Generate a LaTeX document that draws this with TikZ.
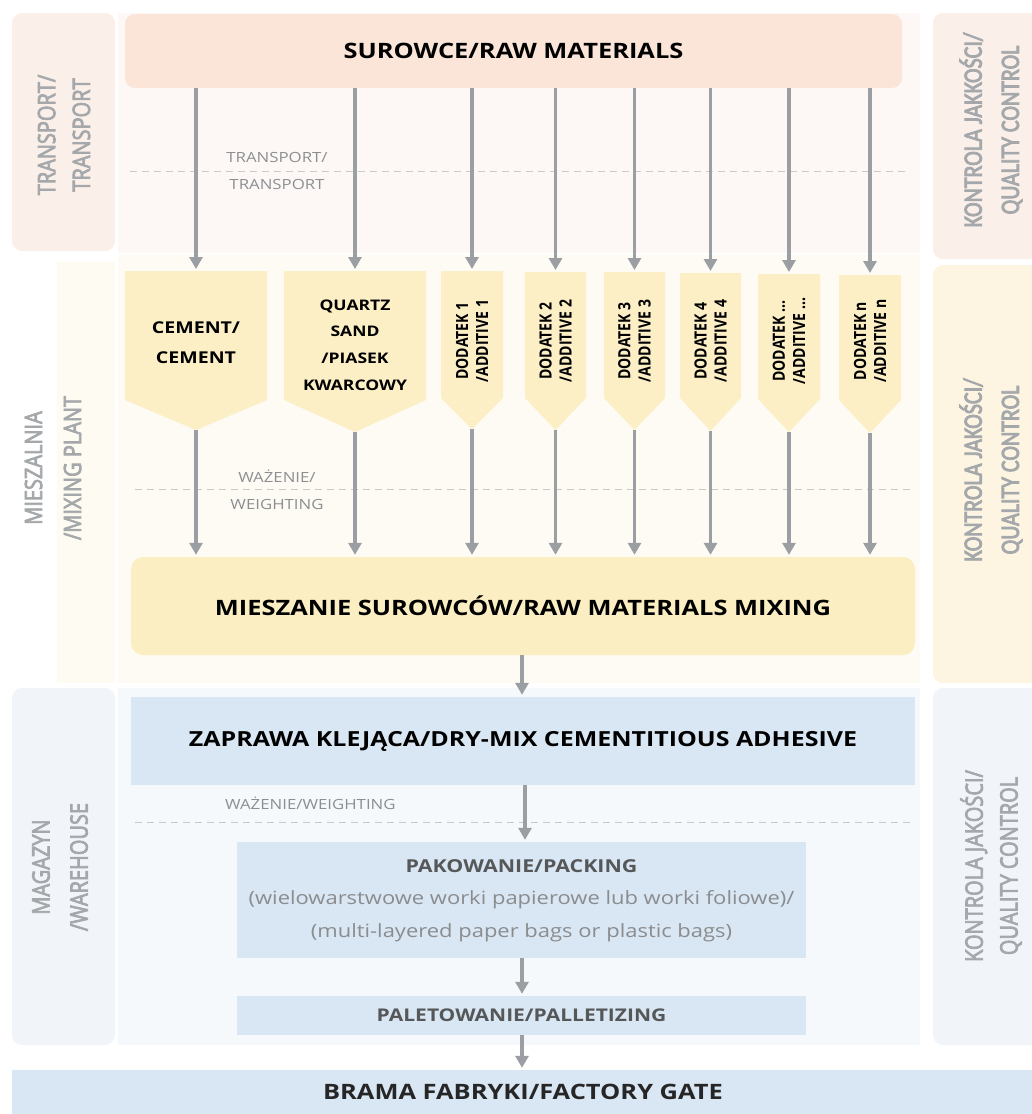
\documentclass[tikz,border=0pt]{standalone}
\usepackage{fontspec}
\setmainfont{Open Sans}[FakeStretch=1.2]
\newfontfamily\plainfont{Open Sans}
\newfontfamily\semifont{Open Sans}[FakeBold=3.5]
\newfontfamily\narrowfont{Carlito}[FakeBold=3.5]
\usetikzlibrary{arrows.meta}
\definecolor{arrowgray}{HTML}{9B9FA3}
\definecolor{labelgray}{HTML}{A5A8AB}
\definecolor{smallgray}{HTML}{8C8F92}
\definecolor{dashgray}{HTML}{CACACA}
\definecolor{rawfill}{HTML}{FBE5D9}
\definecolor{transbg}{HTML}{FDF8F5}
\definecolor{transside}{HTML}{FBEFE9}
\definecolor{mixbg}{HTML}{FDFBF3}
\definecolor{mixside}{HTML}{FDFBF2}
\definecolor{hopperfill}{HTML}{FCEFC6}
\definecolor{mixbox}{HTML}{FCEEC3}
\definecolor{qcmix}{HTML}{FDF5E2}
\definecolor{bluebox}{HTML}{D9E6F3}
\definecolor{whbg}{HTML}{F6F9FC}
\definecolor{whside}{HTML}{F1F5F9}
\definecolor{darktext}{HTML}{555759}
\definecolor{softtext}{HTML}{8A8C8E}
\begin{document}
\begin{tikzpicture}[x=1pt,y=-1pt,
  flow/.style={draw=arrowgray, line width=3.6pt, shorten >=2pt,
    -{Triangle[length=12pt,width=13pt]}},
  dashline/.style={draw=dashgray, line width=1pt, dash pattern=on 7pt off 5pt},
  sidelabel/.style={text=labelgray, rotate=90, yscale=1.2, transform shape, align=center, inner sep=0pt},
  smalllabel/.style={text=smallgray, align=center, inner sep=0pt, font=\fontsize{14}{27}\selectfont},
  hoppertext/.style={align=center, inner sep=0pt},
  addtext/.style={rotate=90, yscale=1.2, transform shape, align=center, inner sep=0pt, font=\plainfont\bfseries\fontsize{14}{16.7}\selectfont},
  bigbox/.style={inner sep=0pt, font=\bfseries\fontsize{21.2}{25}\selectfont},
]
\useasboundingbox (0,0) rectangle (1031,1114);
% ---------- backgrounds ----------
\fill[white] (0,0) rectangle (1031,1114);
\fill[transside, rounded corners=10pt] (12,13) rectangle (115,251);
\fill[transbg] (118,13) rectangle (920,253);
\fill[transside, rounded corners=10pt] (933,13) rectangle (1050,259);
\fill[mixside] (57,262) rectangle (115,683);
\fill[mixbg] (118,255) rectangle (920,683);
\fill[qcmix, rounded corners=10pt] (933,265) rectangle (1050,683);
\fill[whside, rounded corners=10pt] (12,688) rectangle (115,1045);
\fill[whbg] (118,688) rectangle (920,1045);
\fill[whside, rounded corners=10pt] (933,688) rectangle (1050,1045);

% ---------- side labels ----------
\node[sidelabel, font=\semifont\fontsize{20}{29}\selectfont] (ltrans) at (64,135) {TRANSPORT/\\TRANSPORT};
\node[sidelabel, font=\semifont\fontsize{20}{32.5}\selectfont] (lmix) at (53,468) {MIESZALNIA\\/MIXING PLANT};
\node[sidelabel, font=\semifont\fontsize{20}{31.7}\selectfont] (lwh) at (60,867) {MAGAZYN\\/WAREHOUSE};
\node[sidelabel, font=\narrowfont\fontsize{22}{31}\selectfont] (qc1) at (991,130) {KONTROLA JAKKOŚCI/\\QUALITY CONTROL};
\node[sidelabel, font=\narrowfont\fontsize{22}{31}\selectfont] (qc2) at (991,470) {KONTROLA JAKOŚCI/\\QUALITY CONTROL};
\node[sidelabel, font=\semifont\fontsize{20}{29}\selectfont] (qc3) at (991,866) {KONTROLA JAKOŚCI/\\QUALITY CONTROL};

% ---------- raw materials ----------
\node[bigbox, fill=rawfill, rounded corners=10pt, minimum width=777pt, minimum height=74pt] (raw) at (513.5,51) {SUROWCE/RAW MATERIALS};

% dashed separators and their labels
\draw[dashline] (130,171) -- (910,171);
\node[smalllabel] (ltr) at (277,171) {TRANSPORT/\\TRANSPORT};
\draw[dashline] (135,489) -- (912,489);
\node[smalllabel] (lwe) at (277,490) {WAŻENIE/\\WEIGHTING};
\draw[dashline] (135,822) -- (910,822);
\node[smalllabel, anchor=west] (lwe2) at (225,803) {WAŻENIE/WEIGHTING};

% ---------- hoppers ----------
\foreach \n/\xl/\xr/\t/\s/\p in {1/125/267/271/400/430, 2/284/426/271/400/432,
   3/441/503/271/398/429, 4/525/586/272/398/430, 5/604/665/272/398/430,
   6/680/741/273/398/431, 7/758/820/274/399/432, 8/839/901/275/400/433}{
  \fill[hopperfill] (\xl,\t) -- (\xr,\t) -- (\xr,\s) -- ({(\xl+\xr)/2},\p) -- (\xl,\s) -- cycle;
  \coordinate (top\n) at ({(\xl+\xr)/2},\t);
  \coordinate (tip\n) at ({(\xl+\xr)/2},\p);
}
\node[hoppertext, font=\bfseries\fontsize{16.3}{30}\selectfont] (h1) at (196,343) {CEMENT/\\CEMENT};
\node[hoppertext, font=\bfseries\fontsize{14.6}{26.7}\selectfont] (h2) at (355,345) {QUARTZ\\SAND\\/PIASEK\\KWARCOWY};
\node[addtext] (h3) at (472,341) {DODATEK 1\\/ADDITIVE 1};
\node[addtext] (h4) at (555.5,341) {DODATEK 2\\/ADDITIVE 2};
\node[addtext] (h5) at (634.5,341) {DODATEK 3\\/ADDITIVE 3};
\node[addtext] (h6) at (710.5,341) {DODATEK 4\\/ADDITIVE 4};
\node[addtext] (h7) at (789,341) {DODATEK ...\\/ADDITIVE ...};
\node[addtext] (h8) at (870,341) {DODATEK n\\/ADDITIVE n};

% ---------- mixing and warehouse boxes ----------
\node[bigbox, fill=mixbox, rounded corners=12pt, minimum width=784pt, minimum height=98pt] (mix) at (523,606) {MIESZANIE SUROWCÓW/RAW MATERIALS MIXING};
\node[bigbox, fill=bluebox, minimum width=784pt, minimum height=88pt, font=\bfseries\fontsize{20.8}{25}\selectfont] (adh) at (523,741) {ZAPRAWA KLEJĄCA/DRY-MIX CEMENTITIOUS ADHESIVE};
\node[fill=bluebox, minimum width=569pt, minimum height=116pt, inner sep=0pt] (pack) at (521.5,900) {};
\node[text=darktext, font=\bfseries\fontsize{17.8}{20}\selectfont, inner sep=0pt] (packt) at (521.5,866) {PAKOWANIE/PACKING};
\node[text=softtext, font=\fontsize{18.3}{33}\selectfont, align=center, inner sep=0pt] (packd) at (521.5,916) {(wielowarstwowe worki papierowe lub worki foliowe)/\\(multi-layered paper bags or plastic bags)};
\node[fill=bluebox, text=darktext, font=\bfseries\fontsize{17.5}{20}\selectfont, minimum width=569pt, minimum height=39pt, inner sep=0pt] (pal) at (521.5,1015.5) {PALETOWANIE/PALLETIZING};
\node[bigbox, fill=bluebox, text=black!85, minimum width=1040pt, minimum height=44pt] (gate) at (532,1092) {\hspace*{-18pt}BRAMA FABRYKI/FACTORY GATE};

% ---------- connectors ----------
\foreach \n in {1,...,8}{
  \draw[flow] (raw.south -| top\n) -- (top\n);
  \draw[flow] (tip\n) -- (mix.north -| tip\n);
}
\draw[flow] (mix.south -| 522,0) -- (adh.north -| 522,0);
\draw[flow] (adh.south -| 525,0) -- (pack.north -| 525,0);
\draw[flow] (pack.south -| 522,0) -- (pal.north -| 522,0);
\draw[flow] (pal.south -| 522,0) -- (gate.north -| 522,0);
\end{tikzpicture}
\end{document}
